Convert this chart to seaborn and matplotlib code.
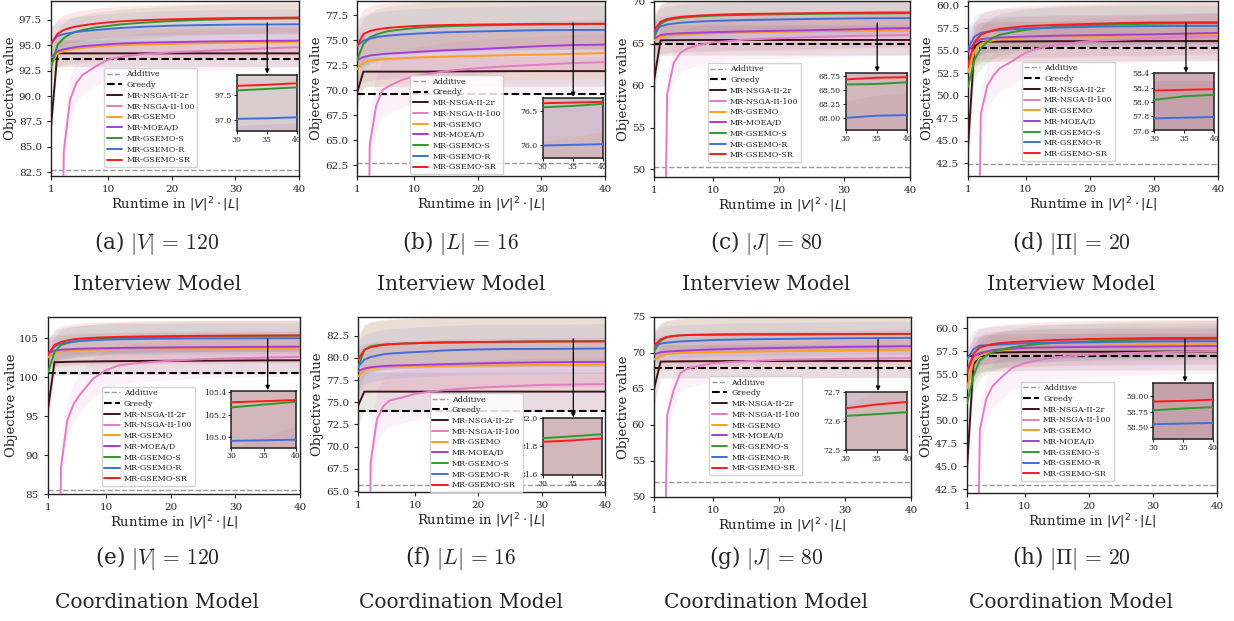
import numpy as np
import pandas as pd
import matplotlib
matplotlib.use("Agg")
import matplotlib.pyplot as plt
import seaborn as sns

# runtime grid (in |V|^2 * |L|)
X = [1, 2, 3, 4, 5, 6, 8, 10, 12, 15, 20, 25, 30, 35, 40]

ALGOS = ["MR-NSGA-II-2r", "MR-NSGA-II-100", "MR-GSEMO", "MR-MOEA/D",
         "MR-GSEMO-S", "MR-GSEMO-R", "MR-GSEMO-SR"]
COLORS = ["#3d1418", "#e57bc6", "#ff9f1c", "#a43ddb", "#2e9a2e", "#3f6fdc", "#ff1a1a"]

CAPTIONS = ["(a) $|V|\\,=\\,120$", "(b) $|L|\\,=\\,16$", "(c) $|J|\\,=\\,80$", "(d) $|\\Pi|\\,=\\,20$",
            "(e) $|V|\\,=\\,120$", "(f) $|L|\\,=\\,16$", "(g) $|J|\\,=\\,80$", "(h) $|\\Pi|\\,=\\,20$"]
MODELS = ["Interview Model"] * 4 + ["Coordination Model"] * 4

ADDITIVE = [82.7, 62.77, 50.28, 42.4, 85.5, 65.67, 52.07, 42.97]
GREEDY = [93.6, 69.57, 64.95, 55.37, 100.47, 73.99, 67.9, 56.96]

# one row per panel (a..h), one column per runtime in X
NSGA2R = [
    [87.0, 94.2, 94.2, 94.2, 94.2, 94.2, 94.2, 94.2, 94.2, 94.2, 94.2, 94.2, 94.2, 94.2, 94.2],
    [69.7, 71.85, 71.85, 71.85, 71.85, 71.85, 71.85, 71.85, 71.85, 71.87, 71.88, 71.9, 71.9, 71.9, 71.9],
    [60.6, 65.4, 65.42, 65.43, 65.43, 65.44, 65.44, 65.45, 65.45, 65.45, 65.45, 65.45, 65.45, 65.45, 65.45],
    [44.3, 55.5, 56.0, 56.02, 56.03, 56.04, 56.05, 56.06, 56.07, 56.08, 56.08, 56.09, 56.1, 56.1, 56.1],
    [95.9, 101.9, 101.92, 101.95, 101.97, 101.98, 102.0, 102.02, 102.04, 102.06, 102.08, 102.1, 102.12, 102.14, 102.15],
    [74.6, 76.2, 76.2, 76.2, 76.2, 76.2, 76.2, 76.2, 76.2, 76.2, 76.2, 76.2, 76.2, 76.2, 76.2],
    [65.0, 68.8, 68.82, 68.83, 68.84, 68.85, 68.86, 68.87, 68.88, 68.88, 68.89, 68.9, 68.9, 68.9, 68.9],
    [44.8, 56.0, 57.1, 57.3, 57.33, 57.35, 57.37, 57.39, 57.4, 57.41, 57.42, 57.43, 57.44, 57.45, 57.45],
]
NSGA100 = [
    [0, 0, 84.5, 89.65, 91.3, 92.1, 92.9, 93.6, 93.85, 94.1, 94.3, 94.45, 94.55, 94.7, 94.8],
    [0, 0, 64.5, 68.4, 70.0, 70.4, 71.0, 71.4, 71.6, 71.9, 72.2, 72.4, 72.55, 72.7, 72.8],
    [0, 0, 59.0, 62.7, 63.9, 64.4, 64.9, 65.15, 65.3, 65.5, 65.65, 65.78, 65.9, 66.0, 66.05],
    [0, 0, 48.0, 51.1, 52.3, 53.1, 53.9, 54.8, 55.3, 55.7, 56.1, 56.25, 56.4, 56.55, 56.65],
    [0, 0, 88.4, 94.5, 96.6, 97.8, 99.8, 100.9, 101.5, 101.8, 102.1, 102.3, 102.4, 102.5, 102.6],
    [0, 0, 68.2, 73.1, 74.55, 75.2, 75.55, 75.95, 76.15, 76.4, 76.65, 76.8, 76.95, 77.0, 77.05],
    [0, 0, 61.4, 64.9, 67.2, 67.8, 68.25, 68.6, 68.72, 68.85, 69.05, 69.12, 69.2, 69.25, 69.3],
    [0, 0, 48.9, 52.3, 53.7, 54.4, 55.65, 56.2, 56.5, 56.85, 57.1, 57.25, 57.35, 57.45, 57.5],
]
GSEMO = [
    [93.0, 94.2, 94.45, 94.55, 94.65, 94.72, 94.85, 94.93, 95.0, 95.05, 95.12, 95.2, 95.25, 95.3, 95.33],
    [72.1, 72.75, 72.95, 73.02, 73.08, 73.12, 73.18, 73.25, 73.3, 73.35, 73.42, 73.5, 73.55, 73.62, 73.7],
    [65.4, 65.85, 66.0, 66.08, 66.13, 66.17, 66.22, 66.27, 66.3, 66.35, 66.42, 66.5, 66.57, 66.63, 66.68],
    [52.6, 55.0, 55.8, 56.0, 56.2, 56.3, 56.42, 56.5, 56.55, 56.6, 56.65, 56.7, 56.75, 56.8, 56.85],
    [102.5, 103.1, 103.3, 103.38, 103.44, 103.48, 103.52, 103.55, 103.58, 103.62, 103.66, 103.69, 103.71, 103.73, 103.75],
    [77.9, 78.6, 78.82, 78.9, 78.95, 78.98, 79.02, 79.05, 79.08, 79.1, 79.15, 79.18, 79.2, 79.22, 79.25],
    [69.1, 69.6, 69.85, 69.92, 70.0, 70.03, 70.07, 70.1, 70.13, 70.18, 70.25, 70.3, 70.35, 70.4, 70.45],
    [53.4, 56.4, 57.0, 57.25, 57.45, 57.55, 57.7, 57.8, 57.87, 57.95, 58.05, 58.12, 58.18, 58.24, 58.3],
]
MOEAD = [
    [93.8, 94.4, 94.6, 94.72, 94.82, 94.9, 95.0, 95.1, 95.17, 95.24, 95.3, 95.36, 95.4, 95.43, 95.45],
    [73.0, 73.3, 73.45, 73.52, 73.6, 73.65, 73.72, 73.8, 73.88, 73.98, 74.1, 74.25, 74.4, 74.5, 74.55],
    [65.6, 66.05, 66.15, 66.2, 66.25, 66.28, 66.33, 66.38, 66.42, 66.47, 66.55, 66.62, 66.7, 66.8, 66.87],
    [54.9, 55.9, 56.3, 56.38, 56.45, 56.5, 56.55, 56.6, 56.64, 56.7, 56.75, 56.8, 56.85, 56.93, 57.0],
    [103.0, 103.4, 103.5, 103.55, 103.6, 103.63, 103.67, 103.7, 103.73, 103.76, 103.8, 103.83, 103.85, 103.88, 103.9],
    [78.5, 78.8, 78.95, 79.02, 79.08, 79.12, 79.16, 79.2, 79.24, 79.3, 79.38, 79.45, 79.5, 79.53, 79.55],
    [69.8, 70.1, 70.2, 70.25, 70.3, 70.35, 70.42, 70.5, 70.55, 70.62, 70.7, 70.78, 70.85, 70.9, 70.95],
    [55.4, 56.9, 57.3, 57.45, 57.6, 57.67, 57.75, 57.85, 57.88, 57.92, 57.95, 57.98, 58.0, 58.03, 58.05],
]
GSEMO_S = [
    [92.8, 95.0, 95.7, 96.1, 96.35, 96.5, 96.75, 96.9, 97.05, 97.2, 97.38, 97.5, 97.58, 97.61, 97.64],
    [73.0, 74.6, 75.25, 75.55, 75.75, 75.9, 76.05, 76.2, 76.28, 76.38, 76.46, 76.52, 76.55, 76.57, 76.6],
    [65.8, 67.4, 67.8, 67.95, 68.08, 68.15, 68.27, 68.35, 68.4, 68.45, 68.52, 68.57, 68.6, 68.61, 68.64],
    [51.0, 54.0, 55.3, 56.0, 56.5, 56.8, 57.1, 57.35, 57.5, 57.7, 57.85, 57.96, 58.03, 58.08, 58.1],
    [100.6, 103.2, 104.1, 104.35, 104.55, 104.65, 104.8, 104.92, 104.99, 105.06, 105.15, 105.22, 105.265, 105.29, 105.315],
    [78.9, 80.9, 81.3, 81.42, 81.5, 81.55, 81.6, 81.65, 81.7, 81.74, 81.78, 81.82, 81.856, 81.87, 81.885],
    [70.2, 71.7, 72.2, 72.35, 72.45, 72.5, 72.53, 72.55, 72.57, 72.59, 72.6, 72.61, 72.617, 72.623, 72.63],
    [51.8, 54.8, 56.5, 57.0, 57.4, 57.6, 57.9, 58.1, 58.25, 58.4, 58.55, 58.68, 58.77, 58.8, 58.82],
]
GSEMO_R = [
    [95.25, 95.9, 96.1, 96.2, 96.3, 96.38, 96.5, 96.6, 96.7, 96.8, 96.92, 96.98, 97.03, 97.04, 97.06],
    [74.4, 74.95, 75.15, 75.28, 75.38, 75.45, 75.55, 75.63, 75.7, 75.78, 75.86, 75.93, 75.99, 76.0, 76.01],
    [66.3, 67.1, 67.3, 67.4, 67.5, 67.56, 67.65, 67.72, 67.77, 67.83, 67.9, 67.96, 68.01, 68.05, 68.06],
    [55.3, 56.6, 57.0, 57.12, 57.25, 57.32, 57.42, 57.5, 57.55, 57.6, 57.68, 57.73, 57.77, 57.78, 57.79],
    [102.8, 103.9, 104.3, 104.45, 104.55, 104.62, 104.72, 104.8, 104.84, 104.88, 104.93, 104.95, 104.97, 104.975, 104.98],
    [79.0, 79.8, 80.1, 80.25, 80.4, 80.48, 80.58, 80.65, 80.72, 80.85, 80.95, 81.0, 81.0, 81.03, 81.05],
    [70.8, 71.3, 71.45, 71.52, 71.6, 71.65, 71.72, 71.8, 71.84, 71.9, 71.95, 72.0, 72.05, 72.08, 72.1],
    [56.6, 57.7, 58.1, 58.12, 58.15, 58.2, 58.28, 58.35, 58.38, 58.42, 58.45, 58.5, 58.55, 58.56, 58.57],
]
GSEMO_SR = [
    [95.1, 96.1, 96.5, 96.7, 96.85, 96.95, 97.12, 97.25, 97.35, 97.45, 97.55, 97.62, 97.67, 97.69, 97.72],
    [74.4, 75.6, 75.9, 76.05, 76.15, 76.22, 76.32, 76.4, 76.45, 76.5, 76.55, 76.58, 76.61, 76.62, 76.63],
    [66.6, 67.6, 67.95, 68.08, 68.2, 68.27, 68.37, 68.45, 68.5, 68.55, 68.6, 68.65, 68.69, 68.72, 68.73],
    [53.4, 56.0, 56.8, 57.1, 57.3, 57.45, 57.62, 57.75, 57.82, 57.9, 58.0, 58.1, 58.16, 58.17, 58.18],
    [102.9, 104.1, 104.5, 104.7, 104.85, 104.93, 105.03, 105.1, 105.15, 105.2, 105.25, 105.29, 105.31, 105.32, 105.33],
    [79.8, 80.9, 81.2, 81.35, 81.45, 81.52, 81.6, 81.65, 81.7, 81.74, 81.78, 81.81, 81.83, 81.84, 81.855],
    [71.0, 71.9, 72.25, 72.38, 72.45, 72.5, 72.53, 72.55, 72.57, 72.59, 72.6, 72.62, 72.643, 72.656, 72.665],
    [55.1, 57.2, 57.9, 58.1, 58.25, 58.35, 58.47, 58.55, 58.62, 58.7, 58.8, 58.86, 58.91, 58.92, 58.94],
]
SERIES = [NSGA2R, NSGA100, GSEMO, MOEAD, GSEMO_S, GSEMO_R, GSEMO_SR]

# standard deviation of each algorithm per panel
STD = [
    [1.3, 2.0, 1.5, 1.5, 1.5, 1.5, 1.5],
    [1.5, 2.8, 2.5, 2.5, 2.5, 2.5, 2.5],
    [1.8, 2.4, 2.2, 2.2, 2.2, 2.2, 2.2],
    [2.2, 2.6, 2.3, 2.3, 2.3, 2.3, 2.3],
    [1.7, 2.5, 2.0, 2.0, 2.0, 2.0, 2.0],
    [2.2, 3.0, 2.8, 2.8, 2.8, 2.8, 2.8],
    [2.3, 2.6, 2.3, 2.3, 2.3, 2.3, 2.3],
    [2.0, 2.4, 2.0, 2.0, 2.0, 2.0, 2.0],
]

YLIM = [(82.13, 99.35), (61.43, 78.9), (49.1, 70.1), (41.1, 60.55),
        (85.0, 107.7), (64.9, 84.6), (50.0, 75.0), (42.07, 61.2)]
INSET_YLIM = [(96.8, 97.89), (75.8, 76.69), (67.79, 68.81), (57.6, 58.4),
              (104.91, 105.41), (81.59, 82.0), (72.5, 72.70), (58.31, 59.21)]
INSET_TICKS = [[97.0, 97.5], [76.0, 76.5], [68.0, 68.25, 68.5, 68.75], [57.6, 57.8, 58.0, 58.2, 58.4],
               [105.0, 105.2, 105.4], [81.6, 81.8, 82.0], [72.5, 72.6, 72.7], [58.5, 58.75, 59.0]]

# layout in pixels: (left, top, right, bottom)
AX_BOX = [(51, 1, 299, 176), (357, 1, 605, 176), (654, 1, 910, 177), (968, 1, 1218, 176),
          (48, 317, 300, 494), (358, 317, 605, 492), (654, 317, 911, 497), (967, 317, 1217, 493)]
LEGEND_AT = [(0.214, 0.052), (0.214, 0.011), (0.21, 0.086), (0.215, 0.088),
             (0.213, 0.047), (0.29, 0.0), (0.214, 0.122), (0.215, 0.07)]
INSET_AT = [(0.749, 0.259, 0.242, 0.321), (0.748, 0.100, 0.242, 0.347),
            (0.749, 0.265, 0.241, 0.328), (0.745, 0.260, 0.240, 0.326),
            (0.727, 0.262, 0.258, 0.320), (0.747, 0.097, 0.240, 0.324),
            (0.746, 0.261, 0.240, 0.324), (0.745, 0.305, 0.240, 0.322)]
CAPTION_X = [157, 461, 766, 1071]

W, H = 1234, 621

sns.set_style("ticks")
plt.rcParams["font.family"] = "DejaVu Serif"
plt.rcParams["mathtext.fontset"] = "dejavusans"
plt.rcParams["axes.edgecolor"] = "#222222"
plt.rcParams["axes.linewidth"] = 1.0


def draw_series(ax, i, alpha, with_labels):
    for k in range(len(ALGOS)):
        y = np.array(SERIES[k][i], dtype=float)
        s = STD[i][k]
        ax.fill_between(X, y - s, y + s, color=COLORS[k], alpha=alpha, lw=0, zorder=1)
    for k in range(len(ALGOS)):
        df = pd.DataFrame({"x": X, "y": SERIES[k][i]})
        sns.lineplot(data=df, x="x", y="y", ax=ax, color=COLORS[k], linewidth=1.4,
                     label=ALGOS[k] if with_labels else None, legend=False, zorder=3)


fig = plt.figure(figsize=(W / 100, H / 100), dpi=100)

for i in range(8):
    l, t, r, b = AX_BOX[i]
    ax = fig.add_axes([l / W, 1 - b / H, (r - l) / W, (b - t) / H])

    ax.axhline(ADDITIVE[i], color="#9a9a9a", ls="--", lw=1.0, label="Additive", zorder=2)
    ax.axhline(GREEDY[i], color="black", ls="--", lw=1.5, label="Greedy", zorder=2)
    draw_series(ax, i, 0.10, True)

    ax.set_xlim(1, 40)
    ax.set_ylim(*YLIM[i])
    ax.set_xticks([1, 10, 20, 30, 40])
    ax.tick_params(labelsize=7.5, length=3, width=0.8)
    ax.set_xlabel("Runtime in $|V|^2 \\cdot |L|$", fontsize=9.5, labelpad=1)
    ax.set_ylabel("Objective value", fontsize=9.5, labelpad=1)
    for sp in ax.spines.values():
        sp.set_visible(True)

    ax.legend(loc="lower left", bbox_to_anchor=LEGEND_AT[i], borderaxespad=0,
              fontsize=5.8, labelspacing=0.34, handlelength=1.9, handletextpad=0.55,
              borderpad=0.32, framealpha=0.85, edgecolor="#cccccc", fancybox=True)

    # zoomed inset of the final phase
    axin = ax.inset_axes(list(INSET_AT[i]))
    draw_series(axin, i, 0.11, False)
    axin.set_xlim(30, 40)
    axin.set_ylim(*INSET_YLIM[i])
    axin.set_xticks([30, 35, 40])
    axin.set_yticks(INSET_TICKS[i])
    axin.set_xlabel("")
    axin.set_ylabel("")
    axin.tick_params(labelsize=5.6, length=2, width=0.7, pad=1.5)
    for sp in axin.spines.values():
        sp.set_visible(True)
        sp.set_linewidth(1.1)

    top = INSET_AT[i][1] + INSET_AT[i][3]
    ax.annotate("", xy=(35, top + 0.005), xycoords=("data", "axes fraction"),
                xytext=(35, 0.875), textcoords=("data", "axes fraction"),
                arrowprops=dict(arrowstyle="-|>", color="black", lw=0.9, mutation_scale=6,
                                shrinkA=0, shrinkB=0), zorder=5)

    col = i % 4
    y1, y2 = (243, 285) if i < 4 else (558, 602)
    fig.text(CAPTION_X[col] / W, 1 - y1 / H, CAPTIONS[i], ha="center", va="center",
             fontsize=15.5, math_fontfamily="cm")
    fig.text(CAPTION_X[col] / W, 1 - y2 / H, MODELS[i], ha="center", va="center",
             fontsize=14.5)

fig.savefig("out.png", dpi=100)
